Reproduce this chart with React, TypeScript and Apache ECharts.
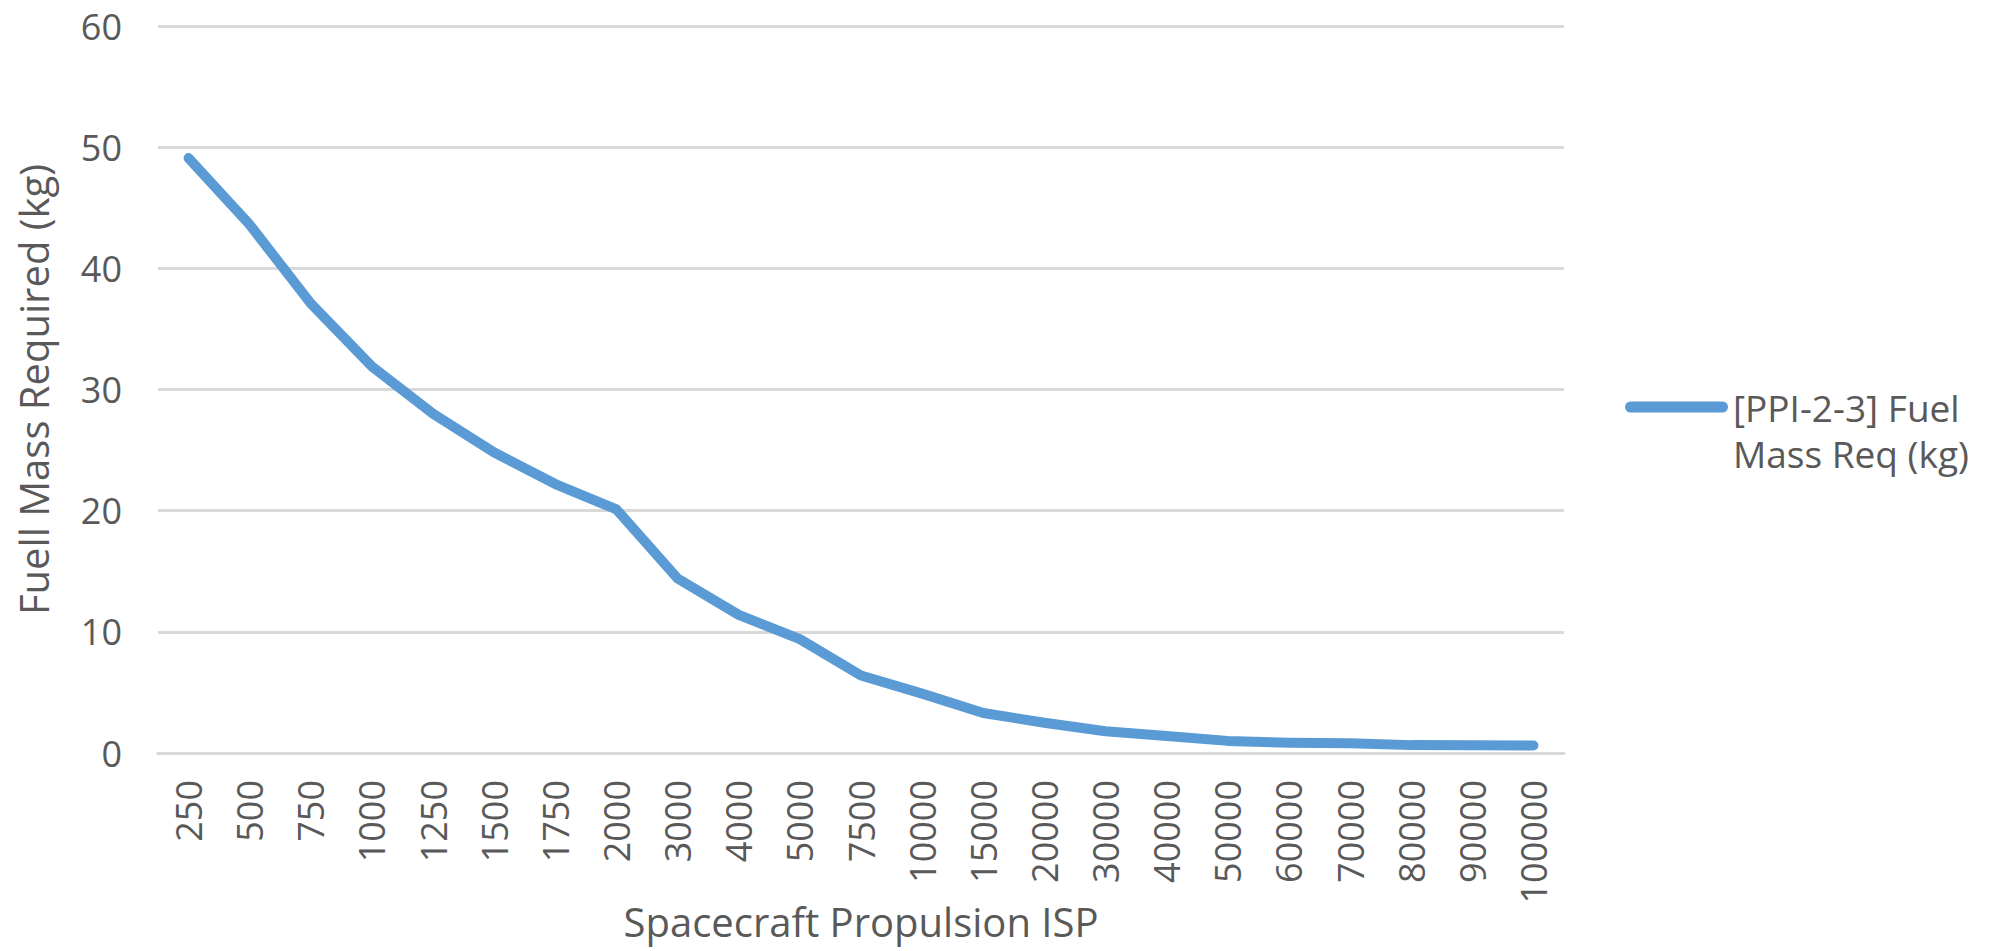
import React, { useEffect, useRef } from "react";
import * as echarts from "echarts";

const categories: string[] = [
  "250", "500", "750", "1000", "1250", "1500", "1750", "2000", "3000", "4000",
  "5000", "7500", "10000", "15000", "20000", "30000", "40000", "50000", "60000",
  "70000", "80000", "90000", "100000",
];

const fuelMass: number[] = [
  49.1, 43.6, 37.1, 31.9, 28.0, 24.8, 22.2, 20.1, 14.4, 11.4,
  9.4, 6.4, 4.9, 3.3, 2.5, 1.8, 1.4, 1.0, 0.85,
  0.8, 0.65, 0.63, 0.62,
];

const seriesName = "[PPI-2-3] Fuel Mass Req (kg)";
const legendLines = ["", "[PPI-2-3] Fuel", "Mass Req (kg)"];
const xAxisTitle = "Spacecraft Propulsion ISP";
const yAxisTitle = "Fuell Mass Required (kg)";

const FONT = "Open Sans";
const TEXT_COLOR = "#595959";
const GRID_COLOR = "#D9D9D9";
const LINE_COLOR = "#5B9BD5";

export default function App() {
  const ref = useRef<HTMLDivElement>(null);

  useEffect(() => {
    if (!ref.current) return;
    const chart = echarts.init(ref.current, undefined, { renderer: "svg" });
    chart.setOption({
      animation: false,
      backgroundColor: "#ffffff",
      textStyle: { fontFamily: FONT },
      grid: { left: 158, right: 433, top: 26, bottom: 198, containLabel: false },
      xAxis: {
        type: "category",
        data: categories,
        boundaryGap: true,
        axisLine: { show: true, lineStyle: { color: GRID_COLOR, width: 3 } },
        axisTick: { show: false },
        axisLabel: {
          rotate: 90,
          interval: 0,
          fontSize: 36,
          color: TEXT_COLOR,
          fontFamily: FONT,
          margin: 27,
        },
        name: xAxisTitle,
        nameLocation: "middle",
        nameMoveOverlap: false,
        nameGap: 148,
        nameTextStyle: { fontSize: 40, color: TEXT_COLOR, fontFamily: FONT },
      },
      yAxis: {
        type: "value",
        min: 0,
        max: 60,
        interval: 10,
        axisLine: { show: false },
        axisTick: { show: false },
        splitLine: { lineStyle: { color: GRID_COLOR, width: 3 } },
        axisLabel: { fontSize: 36, color: TEXT_COLOR, fontFamily: FONT, margin: 36 },
        name: yAxisTitle,
        nameLocation: "middle",
        nameMoveOverlap: false,
        nameRotate: 90,
        nameGap: 105,
        nameTextStyle: { fontSize: 40, color: TEXT_COLOR, fontFamily: FONT },
      },
      legend: {
        show: true,
        left: 1625,
        top: 338,
        padding: 0,
        itemWidth: 103,
        itemHeight: 11,
        icon: "path://M5.5,0 L97.5,0 A5.5,5.5 0 0 1 97.5,11 L5.5,11 A5.5,5.5 0 0 1 5.5,0 Z",
        itemStyle: { color: LINE_COLOR },
        formatter: () => legendLines.join("\n"),
        textStyle: {
          fontSize: 37,
          color: TEXT_COLOR,
          fontFamily: FONT,
          lineHeight: 46,
        },
      },
      series: [
        {
          type: "line",
          name: seriesName,
          data: fuelMass,
          symbol: "none",
          showSymbol: false,
          lineStyle: { color: LINE_COLOR, width: 10, cap: "round", join: "round" },
          itemStyle: { color: LINE_COLOR },
        },
      ],
    });
    return () => chart.dispose();
  }, []);

  return (
    <div
      ref={ref}
      style={{ position: "fixed", left: 0, top: 0, width: 1997, height: 951, background: "#fff" }}
    />
  );
}
